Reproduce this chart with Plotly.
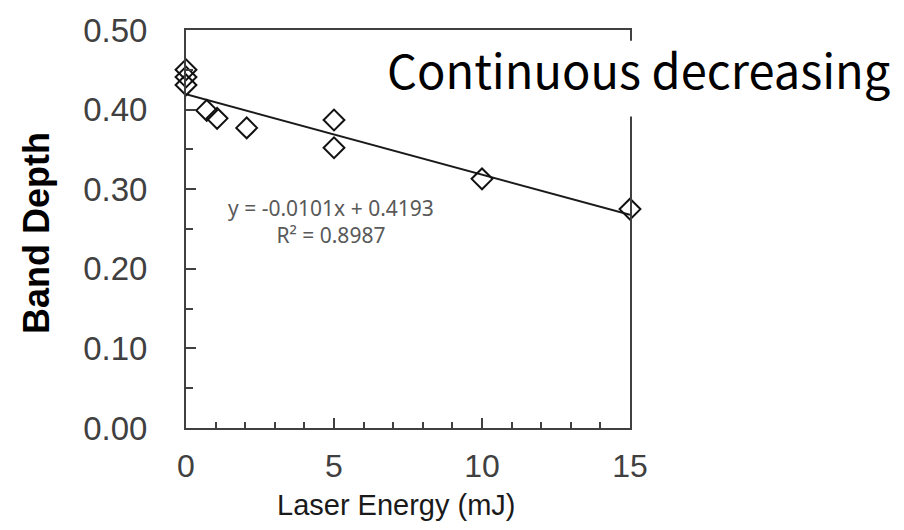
import plotly.graph_objects as go

# Data
energy_mj = [0.0, 0.0, 0.0, 0.7, 1.05, 2.05, 5.0, 5.0, 10.0, 15.0]
band_depth = [0.450, 0.441, 0.431, 0.399, 0.389, 0.377, 0.387, 0.352, 0.313, 0.275]

# Linear trendline (as printed on the chart)
SLOPE = -0.0101
INTERCEPT = 0.4193
R2 = 0.8987
fit_x = [0.0, 15.0]
fit_y = [SLOPE * v + INTERCEPT for v in fit_x]

x_ticks = [0, 5, 10, 15]
y_ticks = [0.0, 0.1, 0.2, 0.3, 0.4, 0.5]
y_tick_text = ["0.00", "0.10", "0.20", "0.30", "0.40", "0.50"]

AX = "#404040"

fig = go.Figure()
fig.add_trace(go.Scatter(x=fit_x, y=fit_y, mode="lines",
                         line=dict(color="#1a1a1a", width=2), showlegend=False,
                         hoverinfo="skip", cliponaxis=False))
fig.add_trace(go.Scatter(x=energy_mj, y=band_depth, mode="markers",
                         marker=dict(symbol="diamond-open", size=16,
                                     color="#111111", line=dict(width=2, color="#111111")),
                         showlegend=False, cliponaxis=False))

fig.update_layout(
    width=904, height=530,
    margin=dict(l=186, r=274, t=19, b=102),
    paper_bgcolor="white", plot_bgcolor="white",
    font=dict(family="Liberation Sans, Arial, sans-serif", color=AX),
    xaxis=dict(range=[0, 15], tickvals=x_ticks, ticks="inside", ticklen=10,
               tickwidth=2, tickcolor=AX, showline=True, linecolor=AX, linewidth=2,
               mirror=True, showgrid=False, zeroline=False,
               tickfont=dict(size=32, color=AX), ticklabelstandoff=9,
               minor=dict(dtick=1, ticks="inside", ticklen=6, tickwidth=2,
                          tickcolor=AX, showgrid=False)),
    yaxis=dict(range=[0, 0.5], tickvals=y_ticks, ticktext=y_tick_text,
               ticks="inside", ticklen=10, tickwidth=2, tickcolor=AX,
               showline=True, linecolor=AX, linewidth=2, mirror=True,
               showgrid=False, zeroline=False,
               tickfont=dict(size=33, color=AX), ticklabelstandoff=30,
               minor=dict(dtick=0.05, ticks="inside", ticklen=7, tickwidth=2,
                          tickcolor=AX, showgrid=False)),
)

# white label box behind the "Continuous decreasing" text (covers part of right frame)
fig.add_shape(type="rect", xref="paper", yref="paper", layer="above",
              x0=(376 - 186) / 444, x1=(902 - 186) / 444,
              y0=(428 - 108) / 409, y1=(428 - 30) / 409,
              fillcolor="white", line=dict(width=0))

annotations = [
    dict(text=f"y = {SLOPE}x + {INTERCEPT}<br>R² = {R2}", xref="paper", yref="paper",
         x=(331 - 186) / 444, y=(428 - 216) / 409, xanchor="center", yanchor="middle",
         showarrow=False,
         font=dict(family="Noto Sans, sans-serif", size=21, color="#595959")),
    dict(text="Continuous decreasing", xref="paper", yref="paper",
         x=(638 - 186) / 444, y=(428 - 59) / 409, xanchor="center", yanchor="middle",
         showarrow=False,
         font=dict(family="Noto Sans CJK JP, Noto Sans, sans-serif", size=47, color="black")),
    dict(text="<b>Band Depth</b>", xref="paper", yref="paper", x=0, y=0.49,
         xshift=-149, xanchor="center", yanchor="middle", textangle=-90, showarrow=False,
         font=dict(family="Liberation Sans, Arial, sans-serif", size=36, color="black")),
    dict(text="Laser Energy (mJ)", xref="paper", yref="paper",
         x=(396 - 186) / 444, y=0, yshift=-(505 - 428), xanchor="center", yanchor="middle",
         showarrow=False,
         font=dict(family="Liberation Sans, Arial, sans-serif", size=29, color="#1a1a1a")),
]
fig.update_layout(annotations=annotations)

fig.write_html("out.html")
